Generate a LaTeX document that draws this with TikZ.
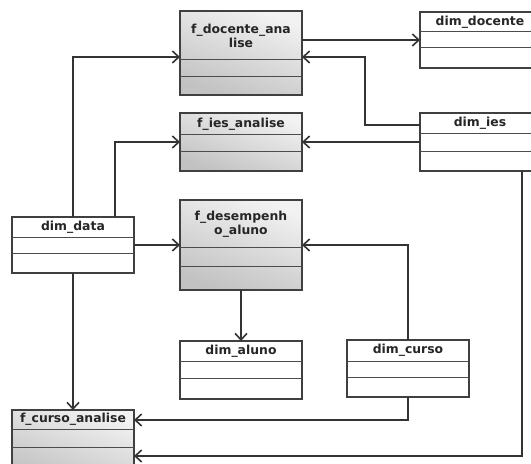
\documentclass[tikz,border=0pt]{standalone}
\usepackage{fontspec}
\setmainfont{DejaVu Sans}
\usetikzlibrary{arrows.meta}
\tikzset{
  tbl/.style={draw=black!75, line width=1.3bp, inner sep=0pt, outer sep=0pt, anchor=north west},
  facttbl/.style={tbl, top color=black!5, bottom color=black!24, shading angle=-20},
  dimtbl/.style={tbl, fill=white},
  sepline/.style={draw=black!70, line width=1bp},
  ttl/.style={font=\fontsize{12.4bp}{14bp}\selectfont\bfseries, align=center, inner sep=0pt, text=black!85},
  conn/.style={draw=black!80, line width=1.6bp, -{Straight Barb[length=6.5bp,width=12bp,line width=1.6bp]}}
}
% name, x1, y1, x2, y2, header bottom, second line, style, title
\newcommand\tablebox[9]{%
  \node[#8, minimum width={#4bp-#2bp}, minimum height={#5bp-#3bp}] (#1) at (#2,#3) {};
  \draw[sepline] (#2,#6) -- (#4,#6);
  \draw[sepline] (#2,#7) -- (#4,#7);
  \node[ttl] (#1-t) at ({(#2+#4)/2},{(#3+#6)/2}) {#9};
}
\begin{document}
\begin{tikzpicture}[x=1bp,y=-1bp]
\useasboundingbox (0,0) rectangle (531,464);
\tablebox{fdoc}{180}{11}{302}{95}{60}{77}{facttbl}{f\_docente\_ana\\lise}
\tablebox{ddoc}{420}{12}{540}{68}{32}{48}{dimtbl}{dim\_docente}
\tablebox{fies}{180}{113}{302}{171}{135}{152}{facttbl}{f\_ies\_analise}
\tablebox{dies}{420}{113}{540}{171}{134}{152}{dimtbl}{dim\_ies}
\tablebox{ddata}{12}{217}{134}{273}{238}{253}{dimtbl}{dim\_data}
\tablebox{fdes}{180}{200}{302}{290}{248}{266}{facttbl}{f\_desempenh\\o\_aluno}
\tablebox{dalu}{180}{341}{302}{399}{361}{378}{dimtbl}{dim\_aluno}
\tablebox{dcur}{347}{340}{469}{397}{361}{377}{dimtbl}{dim\_curso}
\tablebox{fcur}{12}{410}{134}{480}{429}{447}{facttbl}{f\_curso\_analise}

\draw[conn] (fdoc.east |- ddoc.west) -- (ddoc.west);
\draw[conn] ([yshift=17bp]dies.west) -- ++(-55,0) |- ([yshift=-46bp]fdoc.north east);
\draw[conn] (dies.west) -- (fies.east |- dies.west);
\draw[conn] ([xshift=61bp]ddata.north west) |- ([yshift=-46bp]fdoc.north west);
\draw[conn] ([xshift=103bp]ddata.north west) |- (fies.west);
\draw[conn] (ddata.east) -- (fdes.west |- ddata.east);
\draw[conn] ([xshift=61bp]dcur.north west) |- (fdes.east);
\draw[conn] (fdes.south) -- (dalu.north);
\draw[conn] (ddata.south) -- (fcur.north);
\draw[conn] ([xshift=61bp]dcur.south west) |- ([yshift=-10bp]fcur.north east);
\draw[conn] ([xshift=-18bp]dies.south east) |- ([yshift=-46bp]fcur.north east);
\end{tikzpicture}
\end{document}
